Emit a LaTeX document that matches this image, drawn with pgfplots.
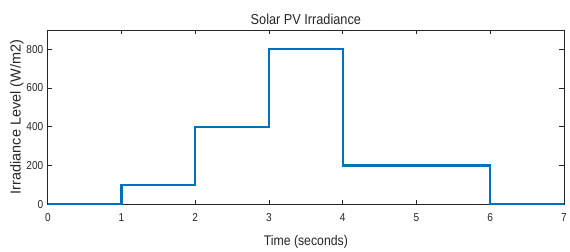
\documentclass[border=0pt]{standalone}
\usepackage{fontspec}
\setmainfont{Liberation Sans}
\newfontfamily\narrow{Liberation Sans}[FakeStretch=0.88]
\usepackage{pgfplots}
\pgfplotsset{compat=1.18}
\definecolor{mblue}{RGB}{0,114,189}
\definecolor{axgray}{RGB}{38,38,38}
\begin{document}
\begin{tikzpicture}
\begin{axis}[
  scale only axis,
  width=518pt, height=175pt,
  xmin=0, xmax=7, ymin=0, ymax=900,
  xtick={0,1,...,7}, ytick={0,200,400,600,800},
  tick align=inside,
  major tick length=4.5pt,
  axis line style={axgray, line width=0.7pt},
  tick style={axgray, line width=0.7pt},
  every tick label/.append style={font=\narrow\fontsize{11.5}{12}\selectfont, text=axgray},
  xticklabel style={yshift=-6pt},
  yticklabel style={xshift=-1pt},
  /pgf/number format/assume math mode=true,
  title={Solar PV Irradiance},
  title style={font=\narrow\fontsize{14.5}{15}\selectfont, text=axgray, yshift=-4pt},
  xlabel={Time (seconds)},
  ylabel={Irradiance Level (W/m2)},
  xlabel style={font=\narrow\fontsize{14}{15}\selectfont, text=axgray, yshift=-7pt},
  ylabel style={font=\fontsize{14.5}{15}\selectfont, text=axgray, yshift=-4pt},
  scaled ticks=false,
]
\addplot[mblue, line width=2.2pt, const plot, line join=miter] coordinates {
  (0,0) (1,100) (2,400) (3,800) (4,200) (6,0) (7,0)
};
\end{axis}
\path (current axis.south west) ++(-48pt,-46pt);
\path (current axis.north east) ++(3.5pt,30pt);
\end{tikzpicture}
\end{document}
